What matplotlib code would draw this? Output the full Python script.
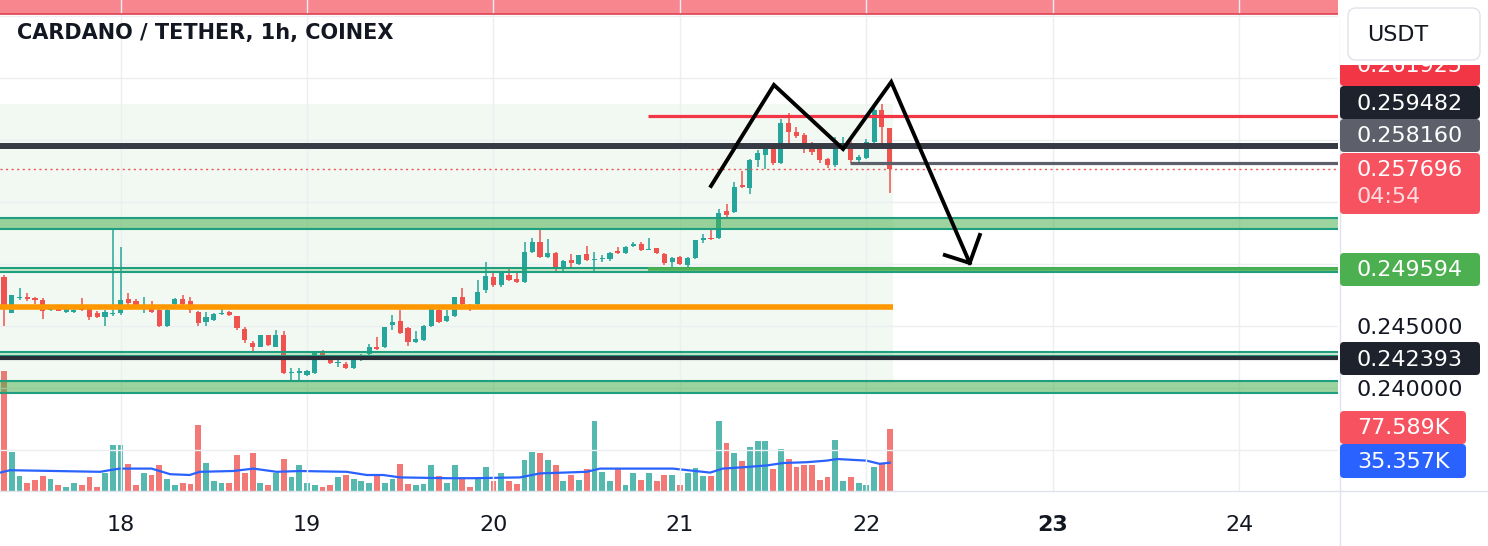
import numpy as np
import matplotlib.pyplot as plt
import matplotlib.transforms as mtransforms
from matplotlib.patches import FancyBboxPatch, Rectangle
from matplotlib.lines import Line2D

# CARDANO / TETHER, 1h candles, from the 17th 09:00 to the 22nd 03:00
opens = [0.24895, 0.24605, 0.24726, 0.24734, 0.24726, 0.24710, 0.24629, 0.24637, 0.24613, 0.24613,
         0.24637, 0.24637, 0.24605, 0.24572, 0.24597, 0.24605, 0.24718, 0.24701, 0.24645, 0.24669,
         0.24629, 0.24500, 0.24677, 0.24718, 0.24701, 0.24613, 0.24532, 0.24548, 0.24597, 0.24613,
         0.24580, 0.24476, 0.24363, 0.24330, 0.24427, 0.24330, 0.24427, 0.24121, 0.24121, 0.24105,
         0.24121, 0.24290, 0.24250, 0.24201, 0.24193, 0.24161, 0.24226, 0.24274, 0.24330, 0.24330,
         0.24508, 0.24540, 0.24484, 0.24371, 0.24387, 0.24500, 0.24629, 0.24540, 0.24580, 0.24734,
         0.24661, 0.24677, 0.24790, 0.24895, 0.24831, 0.24911, 0.24879, 0.24855, 0.25097, 0.25177,
         0.25056, 0.25089, 0.24968, 0.25032, 0.25000, 0.25080, 0.25032, 0.25040, 0.25040, 0.25105,
         0.25089, 0.25145, 0.25161, 0.25113, 0.25129, 0.25080, 0.25016, 0.25056, 0.24992, 0.25048,
         0.25193, 0.25210, 0.25210, 0.25427, 0.25419, 0.25637, 0.25613, 0.25839, 0.25879, 0.25935,
         0.25814, 0.26137, 0.26064, 0.26040, 0.25960, 0.25943, 0.25847, 0.25798, 0.25960, 0.25976,
         0.25839, 0.25855, 0.25984, 0.26242, 0.26097]
highs = [0.24911, 0.24750, 0.24806, 0.24766, 0.24734, 0.24726, 0.24653, 0.24645, 0.24669, 0.24645,
         0.24726, 0.24645, 0.24621, 0.24629, 0.25290, 0.25137, 0.24766, 0.24718, 0.24734, 0.24701,
         0.24645, 0.24661, 0.24726, 0.24750, 0.24734, 0.24621, 0.24613, 0.24605, 0.24645, 0.24621,
         0.24580, 0.24492, 0.24379, 0.24427, 0.24427, 0.24468, 0.24460, 0.24161, 0.24161, 0.24145,
         0.24290, 0.24306, 0.24266, 0.24234, 0.24210, 0.24242, 0.24274, 0.24355, 0.24411, 0.24492,
         0.24589, 0.24629, 0.24492, 0.24460, 0.24508, 0.24661, 0.24645, 0.24629, 0.24734, 0.24806,
         0.24677, 0.24871, 0.25016, 0.24935, 0.24935, 0.24960, 0.24927, 0.25177, 0.25210, 0.25282,
         0.25201, 0.25097, 0.25032, 0.25080, 0.25072, 0.25145, 0.25097, 0.25072, 0.25097, 0.25137,
         0.25145, 0.25177, 0.25177, 0.25210, 0.25129, 0.25089, 0.25056, 0.25064, 0.25056, 0.25193,
         0.25242, 0.25274, 0.25443, 0.25484, 0.25661, 0.25750, 0.25847, 0.25919, 0.25935, 0.25943,
         0.26169, 0.26218, 0.26105, 0.26056, 0.25984, 0.25976, 0.25855, 0.26024, 0.26024, 0.25992,
         0.25879, 0.26008, 0.26274, 0.26290, 0.26097]
lows = [0.24500, 0.24605, 0.24710, 0.24701, 0.24677, 0.24556, 0.24621, 0.24621, 0.24605, 0.24605,
        0.24621, 0.24548, 0.24564, 0.24500, 0.24580, 0.24589, 0.24661, 0.24653, 0.24605, 0.24605,
        0.24492, 0.24492, 0.24661, 0.24661, 0.24605, 0.24500, 0.24500, 0.24540, 0.24589, 0.24580,
        0.24468, 0.24363, 0.24298, 0.24330, 0.24339, 0.24330, 0.24113, 0.24048, 0.24064, 0.24097,
        0.24113, 0.24258, 0.24193, 0.24169, 0.24153, 0.24153, 0.24218, 0.24266, 0.24306, 0.24322,
        0.24468, 0.24435, 0.24339, 0.24363, 0.24379, 0.24492, 0.24524, 0.24532, 0.24572, 0.24669,
        0.24621, 0.24669, 0.24766, 0.24814, 0.24814, 0.24863, 0.24847, 0.24847, 0.25089, 0.25048,
        0.25048, 0.24935, 0.24935, 0.24968, 0.24992, 0.25024, 0.24943, 0.25016, 0.25024, 0.25080,
        0.25080, 0.25137, 0.25105, 0.25113, 0.25080, 0.24992, 0.24976, 0.24992, 0.24976, 0.25040,
        0.25169, 0.25193, 0.25201, 0.25379, 0.25411, 0.25613, 0.25564, 0.25782, 0.25766, 0.25798,
        0.25806, 0.25960, 0.26016, 0.25895, 0.25879, 0.25814, 0.25774, 0.25782, 0.25935, 0.25814,
        0.25822, 0.25847, 0.25976, 0.25960, 0.25572]
closes = [0.24653, 0.24750, 0.24734, 0.24718, 0.24710, 0.24621, 0.24637, 0.24621, 0.24637, 0.24629,
          0.24629, 0.24572, 0.24572, 0.24613, 0.24605, 0.24710, 0.24685, 0.24661, 0.24661, 0.24613,
          0.24500, 0.24629, 0.24718, 0.24677, 0.24629, 0.24524, 0.24572, 0.24597, 0.24605, 0.24589,
          0.24484, 0.24387, 0.24330, 0.24427, 0.24347, 0.24427, 0.24121, 0.24129, 0.24137, 0.24137,
          0.24282, 0.24266, 0.24201, 0.24210, 0.24161, 0.24226, 0.24250, 0.24330, 0.24314, 0.24492,
          0.24532, 0.24443, 0.24371, 0.24395, 0.24500, 0.24637, 0.24532, 0.24580, 0.24734, 0.24677,
          0.24637, 0.24774, 0.24903, 0.24831, 0.24927, 0.24871, 0.24855, 0.25097, 0.25177, 0.25056,
          0.25089, 0.24968, 0.25024, 0.25008, 0.25072, 0.25032, 0.25040, 0.25048, 0.25089, 0.25089,
          0.25137, 0.25161, 0.25113, 0.25121, 0.25089, 0.25008, 0.25048, 0.25000, 0.25048, 0.25193,
          0.25210, 0.25201, 0.25411, 0.25395, 0.25621, 0.25621, 0.25839, 0.25895, 0.25927, 0.25814,
          0.26137, 0.26064, 0.26032, 0.25960, 0.25903, 0.25839, 0.25798, 0.25976, 0.25976, 0.25839,
          0.25863, 0.25984, 0.26242, 0.26105, 0.257696]
# volume in thousands
volume_k = [150, 49, 19, 10, 14, 19, 15, 8, 5, 10,
            8, 18, 5, 22, 57, 57, 34, 7, 22, 20,
            33, 15, 8, 10, 9, 82, 35, 13, 10, 10,
            45, 23, 47, 10, 7, 23, 40, 17, 32, 10,
            7, 5, 7, 17, 20, 15, 12, 10, 19, 10,
            15, 34, 9, 7, 9, 32, 19, 10, 32, 15,
            5, 15, 30, 13, 23, 12, 9, 39, 49, 48,
            39, 33, 13, 20, 14, 28, 87, 24, 13, 27,
            8, 22, 14, 23, 13, 20, 20, 8, 23, 29,
            19, 19, 88, 60, 48, 38, 55, 62, 62, 27,
            52, 40, 30, 33, 33, 14, 17, 64, 13, 18,
            10, 8, 30, 34, 77.589]
# volume moving average, read at points along the line (candle index, thousands)
vol_ma_x = [-0.5, 0.8, 12.4, 13.6, 14.9, 19.0, 21.4, 23.9, 25.2, 29.5, 32.1, 35.1, 38.1, 44.1,
            46.7, 48.8, 51.0, 57.0, 60.4, 66.4, 69.0, 75.0, 76.7, 86.1, 90.9, 92.5, 95.6, 98.2,
            100.3, 103.3, 105.9, 107.2, 111.0, 112.7, 114.0]
vol_ma_k = [23, 26, 24, 26, 28, 28, 21, 20, 24, 25, 28, 24, 25, 24,
            20, 20, 17, 16, 16, 17, 22, 24, 28, 28, 23, 28, 30, 32,
            35, 36, 38, 40, 38, 34, 35.357]

first_day, first_hour = 17, 9
days = [18, 19, 20, 21, 22, 23, 24]
price_grid = [0.235, 0.240, 0.245, 0.250, 0.255, 0.260, 0.265, 0.270]
price_labels = [0.240, 0.245]   # the only scale labels not hidden by tags

# drawn levels
resistance = 0.261925
top_level = 0.259482
mid_level = 0.258160
last_price = 0.257696
support = 0.249594
low_level = 0.242393
orange_level = 0.24653
zone_hi = (0.25282, 0.25371)
zone_sup = (0.24935, 0.24968)
zone_low = (0.24258, 0.24290)
zone_base = (0.23960, 0.24056)
range_box = (0.24040, 0.26290)
red_band = (0.27016, 0.27300)
countdown = "04:54"
vol_ma_last = 35.357

# double top drawing (candle index, price)
pattern_x = [91.0, 99.1, 108.0, 114.2, 124.3]
pattern_y = [0.25629, 0.26444, 0.25927, 0.26468, 0.25008]
head_x = [121.1, 124.3, 125.6]
head_y = [0.25072, 0.25008, 0.25234]

UP, DOWN = "#26a69a", "#ef5350"
W, H, DPI = 1488, 546, 100
PLOT_W, PLOT_H = 1338, 491

fig = plt.figure(figsize=(W / DPI, H / DPI), dpi=DPI)
fig.patch.set_facecolor("white")
# pixel coordinates, origin top-left
px = mtransforms.Affine2D().scale(1 / DPI, -1 / DPI).translate(0, H / DPI) + fig.dpi_scale_trans

rect = [0, (H - PLOT_H) / H, PLOT_W / W, PLOT_H / H]
axv = fig.add_axes(rect)
ax = fig.add_axes(rect)
ax.patch.set_alpha(0)

n = len(closes)
idx = np.arange(n)
o, h, l, c = (np.array(a) for a in (opens, highs, lows, closes))
colors = np.where(c >= o, UP, DOWN)

xlim = (-0.51, 171.7)
ax.set_xlim(xlim)
axv.set_xlim(xlim)
ax.set_ylim(0.23169, 0.27129)

# volume
axv.bar(idx, volume_k, width=0.75, color=colors, alpha=0.78, zorder=2)
axv.plot(vol_ma_x, vol_ma_k, color="#2962ff", lw=1.6, zorder=3)
axv.set_ylim(0, 614)
axv.axis("off")

# grid and scales
day_pos = [(d - first_day) * 24 - first_hour for d in days]
ax.set_xticks(day_pos)
ax.set_xticklabels([str(d) for d in days])
ax.set_yticks(price_grid)
ax.set_yticklabels([f"{p:.6f}" if p in price_labels else "" for p in price_grid])
ax.yaxis.tick_right()
ax.grid(True, color="#eceef2", lw=1, zorder=0)
ax.tick_params(length=0, labelsize=16, colors="#131722")
ax.tick_params(axis="x", pad=17)
ax.tick_params(axis="y", pad=13)
for t in ax.get_xticklabels():
    if t.get_text() == "23":
        t.set_fontweight("bold")
for s in ax.spines.values():
    s.set_visible(False)
for s in axv.spines.values():
    s.set_visible(False)

# background range box
ax.add_patch(Rectangle((-2, range_box[0]), 114.4 + 2, range_box[1] - range_box[0],
                       fc="#4caf50", alpha=0.07, ec="none", zorder=1))
# red band at top
ax.axhspan(*red_band, fc="#f23645", alpha=0.6, ec="none", zorder=1)
ax.axhline(red_band[0], color="#e04050", lw=1.2, zorder=2)

# candles
ax.vlines(idx, l, h, color=colors, lw=1.1, zorder=4)
body_lo = np.minimum(o, c)
body_h = np.maximum(np.abs(c - o), 0.00003)
ax.bar(idx, body_h, bottom=body_lo, width=0.66, color=colors, zorder=5)

# zones
for lo, hi, a in [(zone_hi[0], zone_hi[1], 0.55), (zone_base[0], zone_base[1], 0.55),
                  (zone_sup[0], zone_sup[1], 0.25), (zone_low[0], zone_low[1], 0.25)]:
    ax.axhspan(lo, hi, fc="#4caf50", alpha=a, ec="none", zorder=6)
    ax.axhline(lo, color="#1f9e80", lw=1.5, zorder=6)
    ax.axhline(hi, color="#1f9e80", lw=1.5, zorder=6)

# level lines
ax.hlines(orange_level, -2, 114.4, color="#ff9800", lw=4, zorder=7)
ax.axhline(top_level, color="#363a45", lw=4.3, zorder=7)
ax.axhline(low_level, color="#2a2e39", lw=3, zorder=7)
ax.hlines(resistance, 82.9, xlim[1], color="#f23645", lw=2.3, zorder=7)
ax.hlines(mid_level, 108.9, xlim[1], color="#5d606b", lw=2.3, zorder=7)
ax.hlines(support, 82.9, xlim[1], color="#4caf50", lw=2.6, zorder=7)
ax.axhline(last_price, color="#ef5350", lw=1, ls=(0, (1.5, 2.5)), zorder=7)

# double top drawing
ax.plot(pattern_x, pattern_y, color="black", lw=2.8, zorder=8, solid_joinstyle="miter", clip_on=False)
ax.plot(head_x, head_y, color="black", lw=2.8, zorder=8, solid_joinstyle="miter", clip_on=False)

# title
fig.text(17, 33, "CARDANO / TETHER, 1h, COINEX", transform=px, fontsize=15,
         fontweight="bold", color="#131722", va="center", ha="left")

# frame lines
fig.add_artist(Line2D([1339.5, 1339.5], [0, H], transform=px, color="#e0e3eb", lw=1, zorder=4))
fig.add_artist(Line2D([0, W], [491, 491], transform=px, color="#e0e3eb", lw=1, zorder=4))


def tag(top, bottom, color, text, width=140, sub=None, text_y=None):
    fig.add_artist(FancyBboxPatch((1340, top), width, bottom - top, transform=px,
                                  boxstyle="round,pad=0,rounding_size=4",
                                  fc=color, ec="none", zorder=5))
    if sub is None:
        y = (top + bottom) / 2 + 1 if text_y is None else text_y
        fig.text(1357, y, text, transform=px, fontsize=16,
                 color="white", va="center", ha="left", zorder=6)
    else:
        fig.text(1357, top + 17, text, transform=px, fontsize=16,
                 color="white", va="center", ha="left", zorder=6)
        fig.text(1357, top + 44, sub, transform=px, fontsize=16,
                 color="white", alpha=0.8, va="center", ha="left", zorder=6)


# the resistance tag sits partly under the currency box
tag(51, 86, "#f23645", f"{resistance:.6f}", text_y=66)
fig.add_artist(Rectangle((1340, 0), 148, 65, transform=px, fc="white", ec="none", zorder=7))
fig.add_artist(FancyBboxPatch((1348, 8), 132, 52, transform=px,
                              boxstyle="round,pad=0,rounding_size=8",
                              fc="white", ec="#e0e3eb", lw=1, zorder=7))
fig.text(1367, 35, "USDT", transform=px, fontsize=16, color="#131722",
         va="center", ha="left", zorder=8)
tag(86, 119, "#1e222d", f"{top_level:.6f}")
tag(119, 152, "#5d606b", f"{mid_level:.6f}")
tag(153, 214, "#f7525f", f"{last_price:.6f}", sub=countdown)
tag(253, 286, "#4caf50", f"{support:.6f}")
tag(342, 375, "#1e222d", f"{low_level:.6f}")
tag(411, 444, "#f7525f", f"{volume_k[-1]:.3f}K", width=126)
tag(444, 478, "#2962ff", f"{vol_ma_last:.3f}K", width=126)

fig.savefig("out.png", dpi=DPI)
